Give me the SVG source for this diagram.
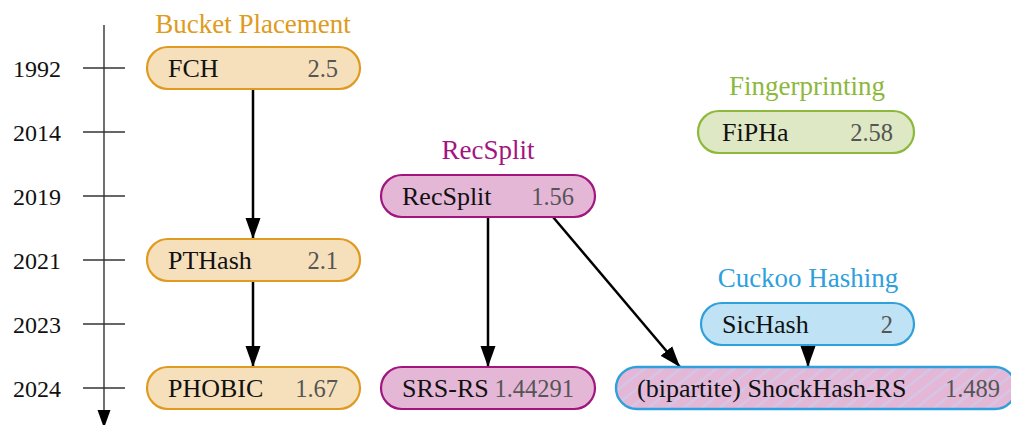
<svg xmlns="http://www.w3.org/2000/svg" width="1011" height="425" viewBox="0 0 1011 425">
  <style>
    .year { font-family: "Liberation Serif", "DejaVu Serif", serif; font-size: 24px; fill: #111; text-anchor: end; }
    .name { font-family: "Liberation Serif", "DejaVu Serif", serif; font-size: 26px; fill: #111; }
    .val { font-family: "Liberation Serif", "DejaVu Serif", serif; font-size: 24.5px; fill: #555; text-anchor: end; }
    .group { font-family: "Liberation Serif", "DejaVu Serif", serif; font-size: 27px; text-anchor: middle; }
    .axis { stroke: #333; stroke-width: 1.4; fill: none; }
    .edge { stroke: #000; stroke-width: 2.5; fill: none; marker-end: url(#head); }
    .bp { fill: #f6e0bc; stroke: #e09a20; stroke-width: 2.2; }
    .rs { fill: #e5b7d7; stroke: #a2157f; stroke-width: 2.2; }
    .fp { fill: #dfe8c4; stroke: #8cb83c; stroke-width: 2.2; }
    .ck { fill: #bfe2f4; stroke: #2ea0dc; stroke-width: 2.2; }
  </style>
  <defs>
    <marker id="head" viewBox="0 0 21 16" refX="21" refY="8" markerWidth="21" markerHeight="16" markerUnits="userSpaceOnUse" orient="auto">
      <path d="M0,0.5 L21,8 L0,15.5 Z" fill="#000"/>
    </marker>
    <marker id="axhead" viewBox="0 0 18 14" refX="18" refY="7" markerWidth="18" markerHeight="14" markerUnits="userSpaceOnUse" orient="auto">
      <path d="M0,0.5 L18,7 L0,13.5 Z" fill="#000"/>
    </marker>
    <pattern id="hatch" width="11" height="11" patternUnits="userSpaceOnUse" patternTransform="rotate(-38)">
      <rect width="11" height="11" fill="#e5b7d7"/>
      <line x1="0" y1="5.5" x2="11" y2="5.5" stroke="#cdcbec" stroke-width="1.8"/>
    </pattern>
  </defs>

  <!-- timeline -->
  <g id="timeline">
    <line class="axis" x1="104" y1="25" x2="104" y2="428" marker-end="url(#axhead)"/>
    <line class="axis" x1="83" y1="68" x2="125" y2="68"/>
    <line class="axis" x1="83" y1="132" x2="125" y2="132"/>
    <line class="axis" x1="83" y1="196" x2="125" y2="196"/>
    <line class="axis" x1="83" y1="260" x2="125" y2="260"/>
    <line class="axis" x1="83" y1="324" x2="125" y2="324"/>
    <line class="axis" x1="83" y1="388" x2="125" y2="388"/>
    <text class="year" x="61" y="76.5">1992</text>
    <text class="year" x="61" y="140.5">2014</text>
    <text class="year" x="61" y="204.5">2019</text>
    <text class="year" x="61" y="268.5">2021</text>
    <text class="year" x="61" y="332.5">2023</text>
    <text class="year" x="61" y="396.5">2024</text>
  </g>

  <!-- group headings -->
  <g id="groups">
    <text class="group" x="253" y="33" fill="#e09a20">Bucket Placement</text>
    <text class="group" x="488" y="159" fill="#a2157f">RecSplit</text>
    <text class="group" x="807" y="95" fill="#8cb83c">Fingerprinting</text>
    <text class="group" x="808" y="287" fill="#2ea0dc">Cuckoo Hashing</text>
  </g>

  <!-- connectors -->
  <g id="edges">
    <line class="edge" x1="253" y1="89" x2="253" y2="239"/>
    <line class="edge" x1="253" y1="281" x2="253" y2="367"/>
    <line class="edge" x1="488" y1="217" x2="488" y2="367"/>
    <line class="edge" x1="553" y1="217" x2="680" y2="367"/>
    <line class="edge" x1="808" y1="345" x2="808" y2="367"/>
  </g>

  <!-- nodes -->
  <g id="FCH">
    <rect class="bp" x="147" y="47" width="213" height="42" rx="21"/>
    <text class="name" x="168" y="77">FCH</text>
    <text class="val" x="338" y="77">2.5</text>
  </g>
  <g id="PTHash">
    <rect class="bp" x="147" y="239" width="213" height="42" rx="21"/>
    <text class="name" x="168" y="269">PTHash</text>
    <text class="val" x="338" y="269">2.1</text>
  </g>
  <g id="PHOBIC">
    <rect class="bp" x="147" y="367" width="213" height="42" rx="21"/>
    <text class="name" x="168" y="397">PHOBIC</text>
    <text class="val" x="338" y="397">1.67</text>
  </g>
  <g id="RecSplit">
    <rect class="rs" x="381" y="175" width="214" height="42" rx="21"/>
    <text class="name" x="402" y="205">RecSplit</text>
    <text class="val" x="574" y="205">1.56</text>
  </g>
  <g id="SRS-RS">
    <rect class="rs" x="381" y="367" width="214" height="42" rx="21"/>
    <text class="name" x="402" y="397">SRS-RS</text>
    <text class="val" x="574" y="397">1.44291</text>
  </g>
  <g id="FiPHa">
    <rect class="fp" x="698" y="111" width="216" height="42" rx="21"/>
    <text class="name" x="722" y="141">FiPHa</text>
    <text class="val" x="893" y="141">2.58</text>
  </g>
  <g id="SicHash">
    <rect class="ck" x="701" y="303" width="213" height="42" rx="21"/>
    <text class="name" x="722" y="333">SicHash</text>
    <text class="val" x="893" y="333">2</text>
  </g>
  <g id="ShockHash-RS">
    <rect x="616" y="367" width="400" height="42" rx="21" fill="url(#hatch)" stroke="#2ea0dc" stroke-width="2.4"/>
    <text class="name" x="637" y="397">(bipartite) ShockHash-RS</text>
    <text class="val" x="1000" y="397">1.489</text>
  </g>
</svg>
